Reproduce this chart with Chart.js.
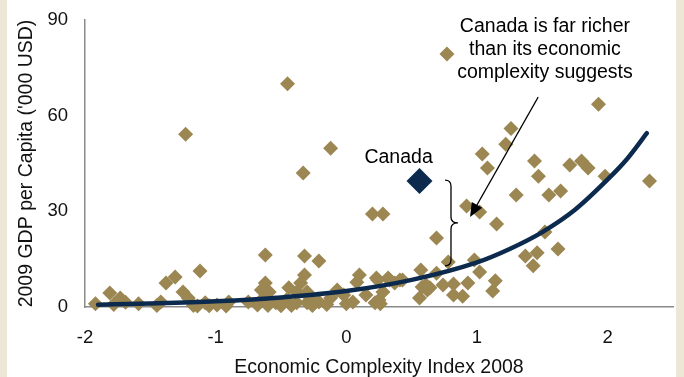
<!DOCTYPE html>
<html>
<head>
<meta charset="utf-8">
<script src="https://cdn.jsdelivr.net/npm/chart.js@4.4.1/dist/chart.umd.min.js"></script>
<style>
  html, body { margin: 0; padding: 0; }
  body { width: 684px; height: 377px; background: #ECE7D6; overflow: hidden; position: relative; }
  #frame { position: absolute; left: 7px; top: 0; width: 669px; height: 377px; background: #ffffff; }
  canvas { display: block; }
</style>
</head>
<body>
<div id="frame"><canvas id="chart" width="669" height="377"></canvas></div>
<script>
// Countries: Economic Complexity Index 2008 vs 2009 GDP per capita ('000 USD)
const countryEci = [
  -1.92, -1.81, -1.78, -1.73, -1.69, -1.59, -1.45, -1.42, -1.38, -1.31,
  -1.25, -1.23, -1.21, -1.17, -1.14, -1.12, -1.08, -1.05, -0.99, -0.92,
  -0.90, -0.75, -0.68, -0.65, -0.63, -0.62, -0.62, -0.60, -0.59, -0.54,
  -0.50, -0.46, -0.45, -0.44, -0.42, -0.38, -0.38, -0.35, -0.33, -0.32,
  -0.32, -0.30, -0.30, -0.28, -0.26, -0.21, -0.21, -0.15, -0.12, -0.12,
  -0.07, -0.02, 0.00, 0.05, 0.08, 0.10, 0.15, 0.20, 0.22, 0.23,
  0.24, 0.25, 0.26, 0.28, 0.28, 0.32, 0.33, 0.37, 0.41, 0.43,
  0.56, 0.57, 0.58, 0.61, 0.62, 0.64, 0.69, 0.69, 0.74, 0.77,
  0.78, 0.82, 0.82, 0.89, 0.92, 0.93, 0.98, 1.02, 1.02, 1.04,
  1.08, 1.12, 1.14, 1.15, 1.22, 1.26, 1.30, 1.37, 1.43, 1.44,
  1.46, 1.47, 1.52, 1.55, 1.62, 1.64, 1.71, 1.80, 1.85, 1.93,
  1.98, 2.32
];
const countryGdp = [
  1.0, 4.4, 0.8, 2.8, 1.5, 1.0, 0.5, 1.6, 7.5, 9.4,
  4.7, 54.2, 2.8, 0.5, 0.3, 11.3, 1.3, 0.4, 0.6, 0.3,
  1.6, 1.6, 0.6, 5.3, 3.0, 16.3, 7.5, 0.5, 4.7, 1.3,
  0.4, 2.2, 70.0, 6.0, 0.5, 4.7, 1.3, 7.5, 42.0, 16.0,
  10.0, 4.7, 1.3, 3.0, 0.5, 14.4, 1.6, 0.8, 49.8, 2.8,
  5.3, 3.8, 1.0, 1.6, 7.8, 10.0, 3.8, 29.2, 1.3, 9.1,
  8.5, 2.2, 1.0, 29.2, 4.7, 9.1, 8.5, 7.5, 8.5, 8.5,
  2.8, 11.6, 6.3, 6.9, 5.3, 6.0, 21.6, 10.6, 6.9, 79.3,
  14.1, 7.2, 3.8, 3.4, 31.7, 7.5, 14.7, 11.0, 29.8, 48.0,
  43.6, 5.0, 8.2, 26.0, 51.0, 56.0, 35.1, 16.0, 12.9, 45.8,
  17.0, 41.0, 23.5, 35.1, 18.2, 36.4, 44.5, 45.8, 43.6, 63.6,
  41.0, 39.5
];

// Highlighted country
const canadaEci = [0.56];
const canadaGdp = [39.5];

// Exponential trend line, sampled along the index
const trendEci = [-1.9, -1.5, -1.0, -0.5, 0.0, 0.5, 1.0, 1.25, 1.5, 1.75, 2.0, 2.15, 2.3];
const trendGdp = [0.7, 1.1, 1.8, 3.0, 5.0, 8.5, 14.0, 18.2, 23.5, 30.5, 40.0, 46.5, 54.5];

// Axis ticks
const xTicks = [-2, -1, 0, 1, 2];
const yTicks = [0, 30, 60, 90];

// Annotation text
const noteLines = ['Canada is far richer', 'than its economic', 'complexity suggests'];
const canadaLabel = 'Canada';

const FONT = '"Liberation Sans", Arial, sans-serif';
const TAN = '#9C8753';
const NAVY = '#0C2A4D';

const zip = (xs, ys) => xs.map((x, i) => ({ x, y: ys[i] }));

// Keep the plot area fixed: no extra room reserved for edge tick labels
const fixScale = size => s => {
  if (s.isHorizontal()) s.height = size; else s.width = size;
  s.paddingLeft = s.paddingRight = s.paddingTop = s.paddingBottom = 0;
};

// Callouts: explanatory note with arrow, the country label and the gap brace
const calloutPlugin = {
  id: 'callouts',
  afterDatasetsDraw(chart) {
    const { ctx, scales: { x, y } } = chart;
    ctx.save();
    ctx.fillStyle = '#000';
    ctx.textAlign = 'center';
    ctx.textBaseline = 'alphabetic';
    ctx.font = '19.5px ' + FONT;

    // note text
    const noteX = x.getPixelForValue(1.52);
    const noteBase = [86.2, 79.0, 71.8];
    noteLines.forEach((t, i) => ctx.fillText(t, noteX, y.getPixelForValue(noteBase[i])));

    // country label
    ctx.fillText(canadaLabel, x.getPixelForValue(0.40), y.getPixelForValue(45.1));

    // arrow
    const x0 = x.getPixelForValue(1.468), y0 = y.getPixelForValue(65.8);
    const x1 = x.getPixelForValue(0.947), y1 = y.getPixelForValue(28.2);
    const ang = Math.atan2(y1 - y0, x1 - x0);
    const headLen = 14, headHalf = 6;
    ctx.strokeStyle = '#000';
    ctx.lineWidth = 1.2;
    ctx.beginPath();
    ctx.moveTo(x0, y0);
    ctx.lineTo(x1 - Math.cos(ang) * headLen * 0.8, y1 - Math.sin(ang) * headLen * 0.8);
    ctx.stroke();
    const bx = x1 - Math.cos(ang) * headLen, by = y1 - Math.sin(ang) * headLen;
    ctx.beginPath();
    ctx.moveTo(x1, y1);
    ctx.lineTo(bx + Math.sin(ang) * headHalf, by - Math.cos(ang) * headHalf);
    ctx.lineTo(bx - Math.sin(ang) * headHalf, by + Math.cos(ang) * headHalf);
    ctx.closePath();
    ctx.fill();

    // brace between the country and the trend line
    const bxL = x.getPixelForValue(0.755);
    const top = y.getPixelForValue(canadaGdp[0] + 0.3);
    const bot = y.getPixelForValue(12.9);
    const mid = (top + bot) / 2;
    const sp = bxL + 6, tip = bxL + 13;
    ctx.lineWidth = 1.3;
    ctx.beginPath();
    ctx.moveTo(bxL, top);
    ctx.quadraticCurveTo(sp, top, sp, top + 6);
    ctx.lineTo(sp, mid - 6);
    ctx.quadraticCurveTo(sp, mid, tip, mid);
    ctx.quadraticCurveTo(sp, mid, sp, mid + 6);
    ctx.lineTo(sp, bot - 6);
    ctx.quadraticCurveTo(sp, bot, bxL, bot);
    ctx.stroke();
    ctx.restore();
  }
};

new Chart(document.getElementById('chart'), {
  type: 'scatter',
  data: {
    datasets: [
      {
        label: 'Canada',
        data: zip(canadaEci, canadaGdp),
        pointStyle: 'rectRot',
        pointRadius: 13,
        backgroundColor: NAVY,
        borderWidth: 0,
        clip: false,
        order: 0
      },
      {
        label: 'Trend',
        data: zip(trendEci, trendGdp),
        showLine: true,
        pointRadius: 0,
        borderColor: NAVY,
        borderWidth: 4.5,
        borderCapStyle: 'round',
        cubicInterpolationMode: 'monotone',
        fill: false,
        clip: false,
        order: 1
      },
      {
        label: 'Countries',
        data: zip(countryEci, countryGdp),
        pointStyle: 'rectRot',
        pointRadius: 7.5,
        backgroundColor: TAN,
        borderWidth: 0,
        clip: false,
        order: 2
      }
    ]
  },
  options: {
    responsive: false,
    animation: false,
    devicePixelRatio: 1,
    layout: { autoPadding: false, padding: { top: 20, right: 3, left: 0, bottom: 0 } },
    plugins: { legend: { display: false }, tooltip: { enabled: false } },
    scales: {
      x: {
        type: 'linear',
        min: -2,
        max: 2.5,
        grid: { display: false },
        border: { display: true, color: '#8A8A8A', width: 1.5 },
        afterBuildTicks: s => { s.ticks = xTicks.map(v => ({ value: v })); },
        afterFit: fixScale(70),
        ticks: { color: '#111', padding: 12, font: { family: FONT, size: 18.5 } },
        title: {
          display: true,
          text: 'Economic Complexity Index 2008',
          color: '#111',
          font: { family: FONT, size: 19.5, lineHeight: 1 },
          padding: { top: 0, bottom: 0 }
        }
      },
      y: {
        type: 'linear',
        min: 0,
        max: 90,
        grid: { display: false },
        border: { display: true, color: '#8A8A8A', width: 1.5 },
        afterBuildTicks: s => { s.ticks = yTicks.map(v => ({ value: v })); },
        afterFit: fixScale(78),
        ticks: { color: '#111', padding: 9, font: { family: FONT, size: 18.5 } },
        title: {
          display: true,
          text: "2009 GDP per Capita ('000 USD)",
          color: '#111',
          font: { family: FONT, size: 19.5, lineHeight: 1.2 },
          padding: { top: 8, bottom: 0 }
        }
      }
    }
  },
  plugins: [calloutPlugin]
});
</script>
</body>
</html>
